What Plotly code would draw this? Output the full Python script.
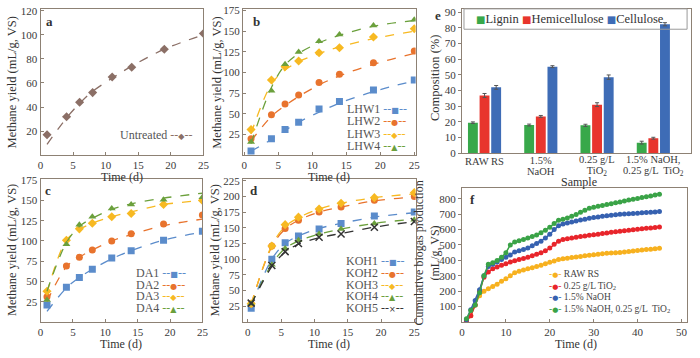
import plotly.graph_objects as go

W, H = 700, 358
SERIF = "Liberation Serif, Times New Roman, serif"

# ---------------- data ----------------
# panel a
t_a = [1, 4, 6, 8, 11, 14, 19, 25]
untreated = [17, 32, 44, 52, 65, 73, 88, 101]
untreated_fit = [9, 31, 43, 53, 64, 74, 88, 100]

# panel b
t_b = [1, 4, 6, 8, 11, 14, 19, 25]
lhw1 = [5, 20, 31, 40, 56, 65, 79, 91]
lhw2 = [20, 49, 62, 73, 88, 98, 112, 126]
lhw3 = [31, 91, 107, 114, 124, 130, 143, 153]
lhw4 = [16, 78, 110, 125, 138, 146, 157, 164]
lhw1_fit = [5, 19, 30, 40, 52, 63, 77, 90]
lhw2_fit = [17, 47, 60, 71, 85, 96, 110, 123]
lhw3_fit = [26, 86, 103, 113, 123, 131, 141, 150]
lhw4_fit = [14, 82, 109, 123, 136, 145, 156, 163]

# panel c
t_c = [1, 4, 6, 8, 11, 14, 19, 25]
da1 = [21, 43, 55, 65, 79, 88, 101, 112]
da2 = [31, 69, 80, 89, 100, 109, 121, 132]
da3 = [38, 101, 115, 122, 130, 134, 145, 150]
da4 = [27, 96, 120, 130, 140, 145, 151, 154]
da1_fit = [13, 42, 55, 65, 78, 88, 101, 111]
da2_fit = [25, 68, 80, 89, 100, 108, 119, 127]
da3_fit = [36, 101, 114, 122, 130, 136, 145, 150]
da4_fit = [38, 98, 118, 128, 139, 146, 153, 159]

# panel d
t_d = [0.5, 3.6, 5.6, 7.6, 10.7, 14, 19, 25]
koh1 = [22, 100, 126, 137, 148, 157, 169, 175]
koh2 = [29, 121, 149, 162, 175, 183, 194, 200]
koh3 = [29, 121, 155, 167, 180, 189, 198, 206]
koh4 = [29, 91, 117, 130, 140, 148, 157, 163]
koh5 = [30, 90, 112, 125, 135, 140, 151, 160]
koh1_fit = [25, 100, 125, 137, 149, 157, 167, 174]
koh2_fit = [28, 120, 148, 162, 175, 183, 193, 199]
koh3_fit = [28, 122, 152, 166, 180, 189, 198, 204]
koh4_fit = [28, 92, 117, 129, 140, 148, 157, 164]
koh5_fit = [28, 88, 111, 124, 134, 141, 151, 160]

# panel e
samples = [["RAW RS"], ["1.5%", "NaOH"], ["0.25 g/L", "TiO<sub>2</sub>"],
           ["1.5% NaOH,", "0.25 g/L  TiO<sub>2</sub>"]]
components = ["Lignin", "Hemicellulose", "Cellulose"]
lignin = [19.5, 18, 17.8, 6.8]
hemicellulose = [36.8, 23.5, 31, 9.6]
cellulose = [42, 55.2, 48.5, 82.2]
lignin_err = [0.5, 0.6, 0.7, 0.9]
hemicellulose_err = [1.3, 0.6, 1.2, 0.6]
cellulose_err = [1.2, 0.6, 1.4, 1.0]

# panel f
days = list(range(1, 46))
raw_rs = [8, 40, 110, 170, 200, 215, 230, 245, 265, 280,
          300, 320, 330, 337, 345, 352, 360, 368, 378, 388,
          396, 405, 410, 414, 418, 422, 426, 430, 434, 437,
          440, 443, 446, 448, 450, 452, 455, 458, 461, 464,
          467, 470, 473, 476, 478]
tio2 = [5, 40, 110, 200, 290, 325, 345, 357, 368, 378,
        390, 398, 405, 412, 420, 430, 440, 450, 462, 480,
        505, 525, 535, 540, 545, 550, 555, 559, 563, 567,
        570, 574, 578, 582, 586, 590, 593, 596, 599, 602,
        605, 608, 611, 614, 617]
naoh = [15, 80, 140, 210, 300, 360, 375, 390, 405, 420,
        435, 455, 462, 470, 480, 495, 510, 525, 545, 570,
        600, 625, 636, 643, 650, 656, 662, 668, 673, 678,
        682, 686, 690, 693, 696, 699, 701, 703, 705, 707,
        709, 711, 713, 715, 717]
naoh_tio2 = [20, 75, 110, 190, 300, 375, 385, 400, 420, 450,
             500, 520, 528, 535, 545, 555, 565, 580, 595, 615,
             640, 660, 668, 676, 686, 698, 712, 726, 738, 745,
             751, 757, 763, 768, 774, 780, 786, 792, 797, 802,
             808, 813, 818, 824, 830]

# ---------------- styling ----------------
BLUE = "#5b8ccb"
ORANGE = "#e8732d"
YELLOW = "#f7b922"
GREEN = "#6ba03c"
BLACK = "#333333"
BROWN = "#8b6f66"
AXC = "#8d8174"
E_COLORS = ["#38a84a", "#e8352d", "#3e6cb6"]
F_COLORS = ["#f7b11f", "#e8252b", "#3661b0", "#3aa347"]


def px(x):
    return x / W


def py(y):
    return 1 - y / H


fig = go.Figure()


def pts(x, y, color, symbol, ax, size=7):
    fig.add_trace(go.Scatter(x=x, y=y, mode="markers", xaxis="x" + ax, yaxis="y" + ax,
                             marker=dict(color=color, symbol=symbol, size=size,
                                         line=dict(width=0, color=color)),
                             showlegend=False, hoverinfo="skip"))


def fit(x, y, color, ax):
    fig.add_trace(go.Scatter(x=x, y=y, mode="lines", xaxis="x" + ax, yaxis="y" + ax,
                             line=dict(color=color, dash="dash", width=1.3, shape="spline"),
                             showlegend=False, hoverinfo="skip"))


# a
fit(t_a, untreated_fit, BROWN, "")
pts(t_a, untreated, BROWN, "diamond", "")
# b
for yv, yf, c, s in [(lhw1, lhw1_fit, BLUE, "square"), (lhw2, lhw2_fit, ORANGE, "circle"),
                     (lhw3, lhw3_fit, YELLOW, "diamond"), (lhw4, lhw4_fit, GREEN, "triangle-up")]:
    fit(t_b, yf, c, "2")
    pts(t_b, yv, c, s, "2")
# c
for yv, yf, c, s in [(da1, da1_fit, BLUE, "square"), (da2, da2_fit, ORANGE, "circle"),
                     (da3, da3_fit, YELLOW, "diamond"), (da4, da4_fit, GREEN, "triangle-up")]:
    fit(t_c, yf, c, "3")
    pts(t_c, yv, c, s, "3")
# d
for yv, yf, c, s in [(koh1, koh1_fit, BLUE, "square"), (koh2, koh2_fit, ORANGE, "circle"),
                     (koh3, koh3_fit, YELLOW, "diamond"), (koh4, koh4_fit, GREEN, "triangle-up"),
                     (koh5, koh5_fit, BLACK, "x-thin")]:
    fit(t_d, yf, c, "4")
    if s == "x-thin":
        fig.add_trace(go.Scatter(x=t_d, y=yv, mode="markers", xaxis="x4", yaxis="y4",
                                 marker=dict(symbol="x-thin", size=7, line=dict(width=1.5, color=c)),
                                 showlegend=False, hoverinfo="skip"))
    else:
        pts(t_d, yv, c, s, "4")

# e
xcat = [0, 1, 2, 3]
for vals, errs, c in [(lignin, lignin_err, E_COLORS[0]), (hemicellulose, hemicellulose_err, E_COLORS[1]),
                      (cellulose, cellulose_err, E_COLORS[2])]:
    fig.add_trace(go.Bar(x=xcat, y=vals, xaxis="x5", yaxis="y5", marker=dict(color=c, line=dict(width=0)),
                         error_y=dict(type="data", array=errs, color="#555", thickness=1, width=2),
                         showlegend=False, hoverinfo="skip"))

# f
for yv, c in zip([raw_rs, tio2, naoh, naoh_tio2], F_COLORS):
    fig.add_trace(go.Scatter(x=days, y=yv, mode="lines+markers", xaxis="x6", yaxis="y6",
                             line=dict(color=c, width=1.5), marker=dict(color=c, size=5),
                             showlegend=False, hoverinfo="skip"))

# ---------------- axes ----------------
tickfont = dict(family=SERIF, size=11, color="#3a3a3a")


def axis(dom, anchor, rng, tickvals, ticks="inside", showlabels=True):
    return dict(domain=dom, anchor=anchor, range=rng, tickvals=tickvals, showline=True, mirror=True,
                linecolor=AXC, linewidth=1, showgrid=False, zeroline=False, ticks=ticks,
                ticklen=3, tickcolor=AXC, tickfont=tickfont, showticklabels=showlabels)


t25 = [0, 5, 10, 15, 20, 25]
layout_axes = dict(
    xaxis=axis([px(38), px(203)], "y", [0, 25], t25),
    yaxis=axis([py(155), py(4)], "x", [0, 121.5], [20, 40, 60, 80, 100, 120]),
    xaxis2=axis([px(243), px(418)], "y2", [-0.2, 25.2], t25),
    yaxis2=axis([py(155), py(4)], "x2", [0, 177], [25, 50, 75, 100, 125, 150, 175]),
    xaxis3=axis([px(38), px(202)], "y3", [0, 25], t25),
    yaxis3=axis([py(327), py(180)], "x3", [0, 176], [25, 50, 75, 100, 125, 150, 175]),
    xaxis4=axis([px(243), px(418)], "y4", [-0.75, 25.2], t25),
    yaxis4=axis([py(327), py(180)], "x4", [0, 227], [25, 50, 75, 100, 125, 150, 175, 200, 225]),
    xaxis5=axis([px(465), px(697)], "y5", [-0.4, 3.67], xcat, ticks="", showlabels=False),
    yaxis5=axis([py(153), py(4)], "x5", [0, 92], list(range(0, 100, 10)), ticks="outside"),
    xaxis6=axis([px(465), px(693)], "y6", [0, 51.3], [0, 10, 20, 30, 40, 50]),
    yaxis6=axis([py(327), py(189)], "x6", [0, 869], [100, 200, 300, 400, 500, 600, 700, 800],
                ticks="outside"),
)

# ---------------- annotations ----------------
ann = []


def text(x, y, s, size=12, angle=0, xanchor="center", bold=False, color="#333"):
    ann.append(dict(x=px(x), y=py(y), xref="paper", yref="paper", text=("<b>%s</b>" % s) if bold else s,
                    showarrow=False, textangle=angle, xanchor=xanchor, yanchor="middle",
                    font=dict(family=SERIF, size=size, color=color)))


def glyph(sym, color, size=9):
    return "<span style='color:%s;font-family:DejaVu Sans;font-size:%dpx'>%s</span>" % (color, size, sym)


def sized(s, size):
    return "<span style='font-size:%spx'>%s</span>" % (size, s)


def block(x, y, lines, text_size, spacing, xanchor="left", xref="paper", color="#555", align="left"):
    """multi-line text; line pitch = 1.3 * base font size, text drawn at text_size"""
    ann.append(dict(x=x if xref != "paper" else px(x), xref=xref, y=py(y), yref="paper",
                    showarrow=False, xanchor=xanchor, yanchor="middle", align=align,
                    text="<br>".join(sized(l, text_size) for l in lines),
                    font=dict(family=SERIF, size=spacing / 1.3, color=color)))


ytitle = "Methane yield (mL/g, VS)"
text(9, 80, ytitle, 12.5, -90)
text(216, 80, ytitle, 12.5, -90)
text(9, 253, ytitle, 12.5, -90)
text(215, 253, ytitle, 12.5, -90)
text(437, 75, "Composition (%)", 12.5, -90)
text(430, 256, "Cumulative biogas production<br>(mL/g, VS)", 12, -90)

text(121, 177, "Time (d)", 12)
text(330, 177, "Time (d)", 12)
text(120, 350, "Time (d)", 12)
text(330, 350, "Time (d)", 12)
text(580, 350, "Time (d)", 12)
text(583, 183, "Sample", 12)

# tick labels of panel e, placed on the category positions
for i, lines in enumerate(samples):
    block(xcat[i], 161 + 5.5 * (len(lines) - 1), lines, 10.5, 11, xanchor="center", xref="x5",
          color="#3a3a3a", align="center")

text(47, 17, "a", 13, bold=True)
text(257, 17, "b", 13, bold=True)
text(46, 191, "c", 13, bold=True)
text(254, 191, "d", 13, bold=True)
text(441, 11, "e", 13, bold=True)
text(476, 201, "f", 13, bold=True)


def leg_line(label, color, sym):
    return "%s <span style='color:%s'>--</span>%s<span style='color:%s'>--</span>" % (
        label, color, glyph(sym, color, 8), color)


text(116, 134, leg_line("Untreated", BROWN, "◆"), 12, xanchor="left", color="#555")
block(346, 126.5, [leg_line(l, c, s) for l, c, s in
                   [("LHW1", BLUE, "■"), ("LHW2", ORANGE, "●"), ("LHW3", YELLOW, "◆"), ("LHW4", GREEN, "▲")]],
      12, 12.3)
block(133, 294.4, [leg_line(l, c, s) for l, c, s in
                   [("DA1", BLUE, "■"), ("DA2", ORANGE, "●"), ("DA3", YELLOW, "◆"), ("DA4", GREEN, "▲")]],
      12, 11.6)
block(345, 288.6, [leg_line(l, c, s) for l, c, s in
                   [("KOH1", BLUE, "■"), ("KOH2", ORANGE, "●"), ("KOH3", YELLOW, "◆"),
                    ("KOH4", GREEN, "▲"), ("KOH5", BLACK, "×")]],
      12, 11.8)
f_labels = ["RAW RS", "0.25 g/L TiO<sub>2</sub>", "1.5% NaOH", "1.5% NaOH, 0.25 g/L  TiO<sub>2</sub>"]
block(551, 295.2, ["<span style='color:%s'>-</span>%s<span style='color:%s'>-</span> %s"
                   % (c, glyph("●", c, 7), c, lab) for lab, c in zip(f_labels, F_COLORS)],
      9.5, 11.5, color="#444")

# legend of panel e: boxed, squares + names
e_leg = " ".join("%s%s" % (glyph("■", col, 10), name) for name, col in zip(components, E_COLORS))
ann.append(dict(x=px(477), y=py(14.5), xref="paper", yref="paper", showarrow=False,
                xanchor="left", yanchor="middle", text=e_leg,
                font=dict(family=SERIF, size=12.5, color="#333")))

shapes = [dict(type="rect", xref="paper", yref="paper", x0=px(467), x1=px(693), y0=py(25), y1=py(4),
               line=dict(color="#9a9a9a", width=1), fillcolor="rgba(0,0,0,0)")]

fig.update_layout(
    width=W, height=H, margin=dict(l=0, r=0, t=0, b=0),
    paper_bgcolor="white", plot_bgcolor="white",
    showlegend=False, barmode="group", bargap=0.38, bargroupgap=0.15,
    annotations=ann, shapes=shapes, **layout_axes,
)

# the page body has a default 8px margin; remove it so the 700x358 figure fills the window
fig.write_html("out.html", config={"displayModeBar": False},
               post_script="document.body.style.margin='0px';")
